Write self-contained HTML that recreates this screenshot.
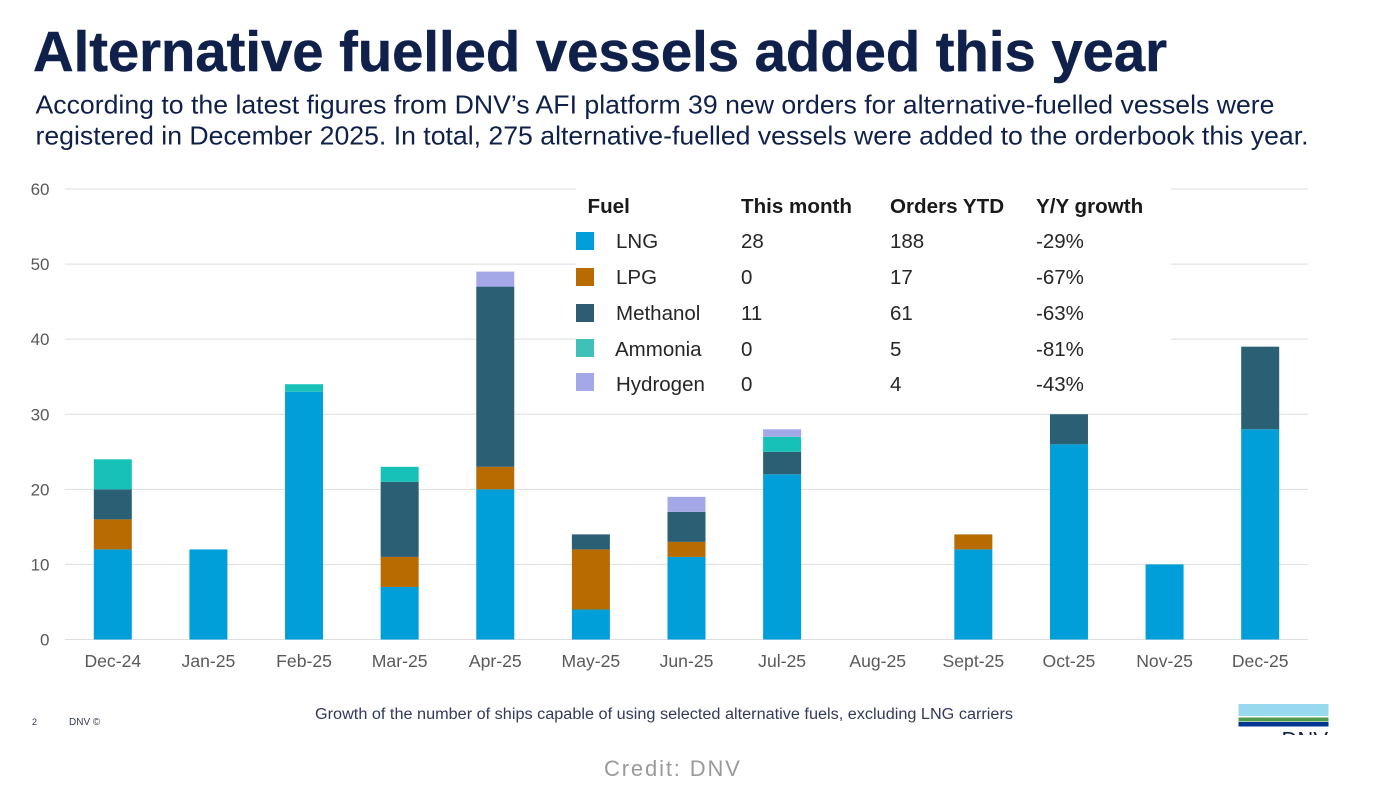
<!DOCTYPE html>
<html lang="en">
<head>
<meta charset="utf-8">
<title>Alternative fuelled vessels added this year</title>
<style>
html,body{margin:0;padding:0;background:#fff;width:1378px;height:798px;overflow:hidden}
svg{display:block;font-family:"Liberation Sans",Arial,sans-serif}
</style>
</head>
<body>
<svg id="chart" xmlns="http://www.w3.org/2000/svg" width="1378" height="798" viewBox="0 0 1378 798">
  <rect width="1378" height="798" fill="#ffffff"/>
  <text x="33" y="71" font-size="57" font-weight="700" fill="#0f204b" stroke="#0f204b" stroke-width="0.5" textLength="1134" lengthAdjust="spacingAndGlyphs">Alternative fuelled vessels added this year</text>
  <text x="35.5" y="113.5" font-size="26" fill="#0f204b" textLength="1239" lengthAdjust="spacingAndGlyphs">According to the latest figures from DNV’s AFI platform 39 new orders for alternative-fuelled vessels were</text>
  <text x="35.5" y="144.5" font-size="26" fill="#0f204b" textLength="1273" lengthAdjust="spacingAndGlyphs">registered in December 2025. In total, 275 alternative-fuelled vessels were added to the orderbook this year.</text>
  <g id="grid"></g>
  <g id="yticks"></g>
  <g id="bars"></g>
  <g id="xticks"></g>

  <g id="legend-table"></g>

  <text x="315" y="719" font-size="15.5" fill="#33395a" textLength="698" lengthAdjust="spacingAndGlyphs">Growth of the number of ships capable of using selected alternative fuels, excluding LNG carriers</text>
  <text x="32" y="725" font-size="9" fill="#33395a">2</text>
  <text x="69" y="725" font-size="10" fill="#33395a">DNV ©</text>

  <g>
    <rect x="1238.5" y="704" width="90" height="12" fill="#99d9f0"/>
    <rect x="1238.5" y="717.5" width="90" height="4" fill="#4f9a4f"/>
    <rect x="1238.5" y="722" width="90" height="4.5" fill="#003591"/>
    <svg x="1270" y="728" width="60" height="7" viewBox="0 0 60 7" overflow="hidden">
      <text x="58" y="19.3" font-size="22" text-anchor="end" fill="#0f204b">DNV</text>
    </svg>
  </g>

  <text x="604" y="776" font-size="22" letter-spacing="1.85" fill="#9a9a9a">Credit: DNV</text>
</svg>
<script>
var categories = ['Dec-24','Jan-25','Feb-25','Mar-25','Apr-25','May-25','Jun-25','Jul-25','Aug-25','Sept-25','Oct-25','Nov-25','Dec-25'];
var lng      = [12,12,33,7,20,4,11,22,0,12,26,10,28];
var lpg      = [4,0,0,4,3,8,2,0,0,2,0,0,0];
var methanol = [4,0,0,10,24,2,4,3,0,0,4,0,11];
var ammonia  = [4,0,1,2,0,0,0,2,0,0,0,0,0];
var hydrogen = [0,0,0,0,2,0,2,1,0,0,0,0,0];
var yTicks = [0,10,20,30,40,50,60];
var fuelNames = ['LNG','LPG','Methanol','Ammonia','Hydrogen'];
var thisMonth = ['28','0','11','0','0'];
var ordersYtd = ['188','17','61','5','4'];
var yyGrowth = ['-29%','-67%','-63%','-81%','-43%'];

var NS = 'http://www.w3.org/2000/svg';
var plotLeft = 65, plotRight = 1308, plotBottom = 639.5, plotTop = 189;
var yMax = 60, barWidth = 38;
var seriesList = [lng, lpg, methanol, ammonia, hydrogen];
var barColors = ['#009fda','#b76b00','#2b5f73','#17c1b8','#a5a8e6'];
var swatchColors = ['#009fda','#b76b00','#2f5c72','#3fc1b9','#a5a8e6'];

function xCenter(i){ return plotLeft + (plotRight - plotLeft) * (i + 0.5) / categories.length; }
function yPos(v){ return plotBottom - (plotBottom - plotTop) * v / yMax; }
function make(tag, attrs, parent, txt){
  var el = document.createElementNS(NS, tag);
  for (var k in attrs) el.setAttribute(k, attrs[k]);
  if (txt !== undefined) el.textContent = txt;
  parent.appendChild(el);
  return el;
}

var grid = document.getElementById('grid');
var yticksG = document.getElementById('yticks');
yTicks.forEach(function(t){
  var line = make('line', {x1:plotLeft, x2:plotRight, y1:yPos(t), y2:yPos(t), stroke:'#dedede', 'stroke-width':1}, grid);
  
  
  var label = make('text', {x:49.5, y:yPos(t) + 6, 'text-anchor':'end', 'font-size':17, fill:'#595959'}, yticksG, String(t));
  
  
});

var barsG = document.getElementById('bars');
var xticksG = document.getElementById('xticks');
categories.forEach(function(cat, i){
  var cum = 0;
  seriesList.forEach(function(series, s){
    var v = series[i];
    if (v > 0) {
      var rect = make('rect', {x:xCenter(i) - barWidth / 2, y:yPos(cum + v), width:barWidth, height:yPos(cum) - yPos(cum + v), fill:barColors[s]}, barsG);
      
      
    }
    cum += v;
  });
  var tick = make('text', {x:xCenter(i), y:667, 'text-anchor':'middle', 'font-size':17.6, fill:'#595959'}, xticksG, cat);
  
  
});

var table = document.getElementById('legend-table');
var panel = make('rect', {x:576, y:188, width:595, height:220, fill:'#ffffff'}, table);



var headerLabels = ['Fuel','This month','Orders YTD','Y/Y growth'];
var headerX = [587.5,741,890,1036];
headerLabels.forEach(function(h, c){
  var head = make('text', {x:headerX[c], y:213, 'font-size':20.6, 'font-weight':700, fill:'#1a1a1a'}, table, h);
  
  
});

var rowBaselines = [248,284,320,356,391];
var swatchTops = [232,268,304,339,373];
fuelNames.forEach(function(name, r){
  var key = name.toLowerCase();
  var sw = make('rect', {x:576, y:swatchTops[r], width:18, height:18, fill:swatchColors[r]}, table);
  
  
  var n = make('text', {x:name === 'Ammonia' ? 615 : 616, y:rowBaselines[r], 'font-size':20.5, fill:'#262626'}, table, name);
  
  
  var a = make('text', {x:741, y:rowBaselines[r], 'font-size':20.5, fill:'#262626'}, table, thisMonth[r]);
  
  
  var b = make('text', {x:890, y:rowBaselines[r], 'font-size':20.5, fill:'#262626'}, table, ordersYtd[r]);
  
  
  var c = make('text', {x:1036, y:rowBaselines[r], 'font-size':20.5, fill:'#262626'}, table, yyGrowth[r]);
  
  
});
</script>
</body>
</html>
